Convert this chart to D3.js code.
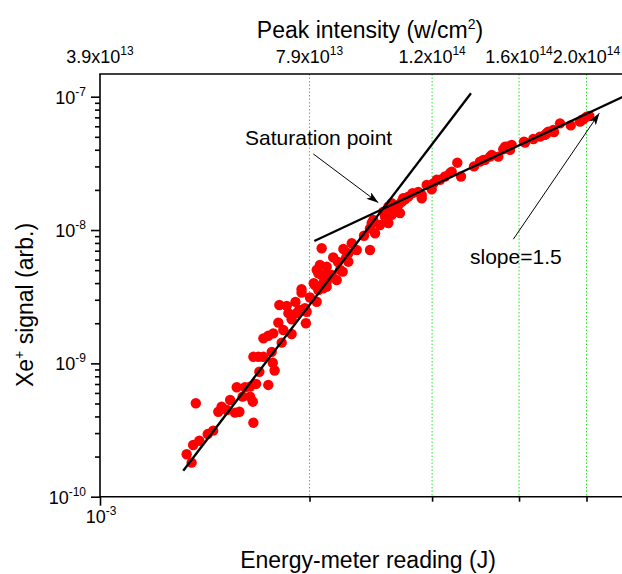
<!DOCTYPE html>
<html><head><meta charset="utf-8">
<script src="https://cdn.jsdelivr.net/npm/d3@7/dist/d3.min.js"></script>
<style>
body{margin:0;background:#fff}
svg{display:block}
text{font-family:Arial,"Liberation Sans",Helvetica,sans-serif;fill:#000}
</style>
</head><body>
<svg id="chart" width="622" height="574"></svg>
<script>
// ---------- DATA ----------
// Energy-meter reading in mJ (converted to J below)
const energy_mJ = [1.332,1.354,1.361,1.373,1.389,1.428,1.454,1.479,1.495,1.521,1.538,1.563,1.572,1.586,1.603,1.616,1.643,1.643,1.658,1.661,1.676,1.661,1.689,1.694,1.717,1.717,1.745,1.745,1.765,1.771,1.774,1.782,1.804,1.824,1.834,1.810,1.855,1.865,1.885,1.885,1.909,1.916,1.933,1.948,1.976,1.981,1.970,2.003,2.028,2.048,2.059,2.036,1.948,2.048,2.059,2.070,2.082,2.082,2.093,2.093,2.117,2.117,2.117,2.117,2.140,2.152,2.163,2.188,2.213,2.232,2.237,2.274,2.274,2.300,2.338,2.198,2.257,2.395,2.443,2.443,2.457,2.470,2.484,2.525,2.553,2.568,2.596,2.596,2.625,2.625,2.653,2.668,2.683,2.698,2.713,2.727,2.743,2.773,2.812,2.866,2.899,2.899,2.947,2.996,3.012,3.046,3.080,3.131,3.183,3.201,3.261,3.301,3.446,3.515,3.554,3.574,3.634,3.654,3.735,3.797,3.819,3.844,3.882,3.904,4.066,4.080,4.194,4.287,4.359,4.383,4.406,4.480,4.490,4.581,4.746,4.894,4.921,4.947,5.003,5.047];
// Xe+ signal (arb.)
const signal = [2.08e-10,1.80e-10,2.44e-10,5.02e-10,2.63e-10,2.95e-10,3.13e-10,4.34e-10,4.73e-10,4.47e-10,5.31e-10,4.27e-10,6.62e-10,4.34e-10,5.63e-10,6.62e-10,6.69e-10,5.63e-10,5.16e-10,3.59e-10,7.01e-10,1.12e-9,1.12e-9,8.66e-10,1.12e-9,1.54e-9,6.89e-10,1.61e-9,1.22e-9,1.01e-9,1.68e-9,8.84e-10,2.02e-9,1.43e-9,1.78e-9,2.74e-9,2.70e-9,2.38e-9,2.14e-9,1.66e-9,2.89e-9,2.38e-9,2.52e-9,3.39e-9,2.00e-9,2.44e-9,2.59e-9,3.12e-9,3.99e-9,2.90e-9,3.55e-9,3.87e-9,3.60e-9,5.02e-9,4.74e-9,5.47e-9,7.30e-9,4.60e-9,3.66e-9,3.99e-9,5.31e-9,4.60e-9,4.10e-9,3.76e-9,4.47e-9,4.60e-9,6.23e-9,4.22e-9,5.02e-9,4.88e-9,7.21e-9,6.70e-9,5.79e-9,7.96e-9,7.09e-9,5.76e-9,6.18e-9,9.06e-9,1.03e-8,7.09e-9,1.13e-8,1.19e-8,9.46e-9,1.09e-8,1.37e-8,1.26e-8,1.50e-8,1.13e-8,1.59e-8,1.30e-8,1.46e-8,1.37e-8,1.54e-8,1.34e-8,1.63e-8,1.73e-8,1.70e-8,1.78e-8,1.89e-8,1.93e-8,1.83e-8,1.73e-8,2.18e-8,2.02e-8,2.24e-8,2.38e-8,2.38e-8,2.52e-8,2.67e-8,2.74e-8,3.20e-8,2.52e-8,3.00e-8,3.26e-8,3.36e-8,3.36e-8,3.55e-8,3.66e-8,3.55e-8,4.04e-8,4.22e-8,4.22e-8,3.99e-8,4.35e-8,4.60e-8,4.53e-8,4.82e-8,5.02e-8,5.17e-8,5.32e-8,5.47e-8,5.63e-8,5.42e-8,6.31e-8,6.09e-8,6.51e-8,6.70e-8,6.78e-8,7.09e-8,7.18e-8];

// fitted power-law lines (energy in J, signal)
const steepFitE = [1.317e-3, 3.412e-3];
const steepFitS = [1.567e-10, 1.062e-7];
const slopeFitE = [2.032e-3, 6.0e-3];
const slopeFitS = [8.284e-9, 1.160e-7];

// annotation arrows (tail -> head) in data units
const satArrowE = [2.025e-3, 2.511e-3];
const satArrowS = [3.724e-8, 1.605e-8];
const slopeArrowE = [3.925e-3, 5.217e-3];
const slopeArrowS = [8.531e-9, 7.519e-8];
const annotationText = ["Saturation point", "slope=1.5"];
const annotationE = [1.616e-3, 3.401e-3];
const annotationS = [4.349e-8, 5.568e-9];

// axes
const xMajorTicks = [1e-3];
const xMajorExp = ["-3"];
const xMinorTicks = [2e-3, 3e-3, 4e-3, 5e-3];
const yMajorTicks = [1e-10, 1e-9, 1e-8, 1e-7];
const yMajorExp = ["-10", "-9", "-8", "-7"];
const topTickE = [1e-3, 2e-3, 3e-3, 4e-3, 5e-3];
const topTickMant = ["3.9x10", "7.9x10", "1.2x10", "1.6x10", "2.0x10"];
const topTickExp = ["13", "13", "14", "14", "14"];
const gridE = [2e-3, 3e-3, 4e-3, 5e-3];

// ---------- CHART ----------
const energy = energy_mJ.map(d => d * 1e-3);
const svg = d3.select("#chart");
const pL = 100, pR = 641.6, pT = 74, pB = 496.7;

const x = d3.scaleLog().domain([1e-3, 6e-3]).range([pL, pR]);
const y = d3.scaleLog().domain([1e-10, 1.48e-7]).range([pB, pT]);

const defs = svg.append("defs");
defs.append("clipPath").attr("id", "plotclip")
  .append("rect").attr("x", pL).attr("y", pT).attr("width", pR - pL).attr("height", pB - pT);

// green dotted verticals
svg.append("g").selectAll("line").data(gridE).join("line")
  .attr("x1", d => x(d)).attr("x2", d => x(d))
  .attr("y1", pT).attr("y2", pB)
  .attr("stroke", "#1ee61e").attr("stroke-width", 1).attr("stroke-dasharray", "1.5,2");

// y minor tick values
const yMinor = [];
for (let k = -10; k <= -8; k++) for (let m = 2; m <= 9; m++) yMinor.push(m * Math.pow(10, k));

// left axis
const gL = svg.append("g").attr("transform", `translate(${pL},0)`);
gL.call(d3.axisLeft(y).tickValues(yMajorTicks).tickSize(9).tickSizeOuter(0).tickFormat(""));
const gLm = svg.append("g").attr("transform", `translate(${pL},0)`);
gLm.call(d3.axisLeft(y).tickValues(yMinor).tickSize(5).tickSizeOuter(0).tickFormat(""));
gLm.select(".domain").remove();
gL.select(".domain").remove();
svg.append("line").attr("x1", pL).attr("x2", pL).attr("y1", pT).attr("y2", pB + 0.5)
  .attr("stroke", "#000").attr("stroke-width", 1.6);

// bottom axis
const gB = svg.append("g").attr("transform", `translate(0,${pB})`);
gB.call(d3.axisBottom(x).tickValues(xMajorTicks).tickSize(9).tickSizeOuter(0).tickFormat(""));
const gBm = svg.append("g").attr("transform", `translate(0,${pB})`);
gBm.call(d3.axisBottom(x).tickValues(xMinorTicks).tickSize(5).tickSizeOuter(0).tickFormat(""));
gB.select(".domain").remove(); gBm.select(".domain").remove();
svg.append("line").attr("x1", pL - 0.8).attr("x2", 622).attr("y1", pB).attr("y2", pB)
  .attr("stroke", "#000").attr("stroke-width", 1.6);
// top axis line
svg.append("line").attr("x1", pL - 0.8).attr("x2", 622).attr("y1", pT).attr("y2", pT)
  .attr("stroke", "#000").attr("stroke-width", 1.6);

svg.selectAll(".tick line").attr("stroke", "#000").attr("stroke-width", 1.6);

// y tick labels
yMajorTicks.forEach((v, i) => {
  const t = svg.append("text").attr("x", 86).attr("y", y(v) + 7)
    .attr("text-anchor", "end").attr("font-size", 18);
  t.append("tspan").text("10");
  t.append("tspan").attr("dy", -8).attr("font-size", 12).text(yMajorExp[i]);
});
// x tick labels
xMajorTicks.forEach((v, i) => {
  const t = svg.append("text").attr("x", x(v) + 1).attr("y", 523)
    .attr("text-anchor", "middle").attr("font-size", 18);
  t.append("tspan").text("10");
  t.append("tspan").attr("dy", -8).attr("font-size", 12).text(xMajorExp[i]);
});
// top tick labels
topTickE.forEach((v, i) => {
  const t = svg.append("text").attr("x", x(v)).attr("y", 63)
    .attr("text-anchor", "middle").attr("font-size", 18);
  t.append("tspan").text(topTickMant[i]);
  t.append("tspan").attr("dy", -8).attr("font-size", 12).text(topTickExp[i]);
});

// axis titles
const tt = svg.append("text").attr("x", 370).attr("y", 38).attr("text-anchor", "middle").attr("font-size", 23);
tt.append("tspan").text("Peak intensity (w/cm");
tt.append("tspan").attr("dy", -9).attr("font-size", 14).text("2");
tt.append("tspan").attr("dy", 9).text(")");

svg.append("text").attr("x", 368).attr("y", 568).attr("text-anchor", "middle").attr("font-size", 23)
  .text("Energy-meter reading (J)");

const yt = svg.append("text").attr("transform", "translate(33,305) rotate(-90)")
  .attr("text-anchor", "middle").attr("font-size", 23);
yt.append("tspan").text("Xe");
yt.append("tspan").attr("dy", -9).attr("font-size", 14).text("+");
yt.append("tspan").attr("dy", 9).text(" signal (arb.)");

// scatter
const plot = svg.append("g").attr("clip-path", "url(#plotclip)");
plot.selectAll("circle").data(energy.map((e, i) => [e, signal[i]])).join("circle")
  .attr("cx", d => x(d[0])).attr("cy", d => y(d[1])).attr("r", 5.2).attr("fill", "#ff0000");

// fit lines
const ln = d3.line().x(d => x(d[0])).y(d => y(d[1]));
plot.append("path").attr("d", ln(steepFitE.map((e, i) => [e, steepFitS[i]])))
  .attr("stroke", "#000").attr("stroke-width", 2.3).attr("fill", "none");
plot.append("path").attr("d", ln(slopeFitE.map((e, i) => [e, slopeFitS[i]])))
  .attr("stroke", "#000").attr("stroke-width", 2.3).attr("fill", "none");

// arrows
defs.append("marker").attr("id", "ah").attr("viewBox", "0 0 12 8")
  .attr("refX", 12).attr("refY", 4).attr("markerWidth", 12).attr("markerHeight", 8)
  .attr("markerUnits", "userSpaceOnUse").attr("orient", "auto")
  .append("path").attr("d", "M0,0 L12,4 L0,8 L3,4 Z").attr("fill", "#000");
[[satArrowE, satArrowS], [slopeArrowE, slopeArrowS]].forEach(([E, S]) => {
  svg.append("path").attr("d", ln(E.map((e, i) => [e, S[i]])))
    .attr("stroke", "#000").attr("stroke-width", 1).attr("fill", "none")
    .attr("marker-end", "url(#ah)");
});

// annotation text
annotationText.forEach((s, i) => {
  svg.append("text").attr("x", x(annotationE[i])).attr("y", y(annotationS[i]))
    .attr("font-size", 21).text(s);
});
</script>
</body></html>
